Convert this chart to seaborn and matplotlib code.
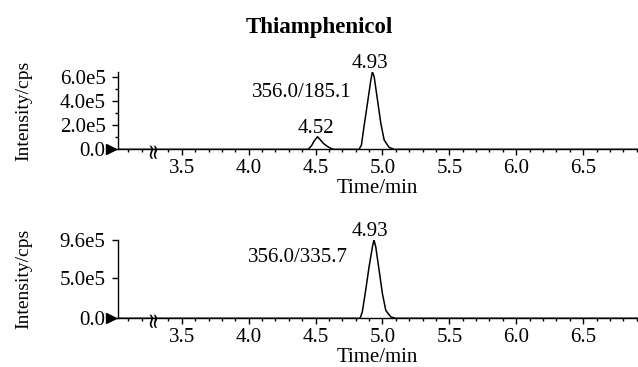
import matplotlib
matplotlib.use("Agg")
import matplotlib.pyplot as plt
import matplotlib.transforms as mtransforms
from matplotlib.ticker import MultipleLocator, FixedLocator
import seaborn as sns
import pandas as pd

# ---- data ----
title = "Thiamphenicol"
time_top = [3.02, 4.445, 4.47, 4.49, 4.515, 4.535, 4.558, 4.575, 4.595, 4.615, 4.635,
            4.825, 4.843, 4.862, 4.888, 4.913, 4.925, 4.938, 4.963, 4.988, 5.013, 5.05, 5.088, 6.91]
int_top = [0, 0, 0.3e5, 0.7e5, 1.04e5, 0.8e5, 0.5e5, 0.35e5, 0.2e5, 0.08e5, 0,
           0, 0.36e5, 1.87e5, 3.8e5, 5.7e5, 6.4e5, 6.0e5, 4.07e5, 2.14e5, 0.77e5, 0.16e5, 0, 0]
time_bot = [3.02, 4.833, 4.85, 4.875, 4.90, 4.925, 4.937, 4.95, 4.975, 5.0, 5.025, 5.063, 5.10, 6.91]
int_bot = [0, 0, 0.82e5, 3.47e5, 6.3e5, 8.75e5, 9.6e5, 8.75e5, 5.9e5, 3.0e5, 0.96e5, 0.16e5, 0, 0]
transition_top = "356.0/185.1"
transition_bot = "356.0/335.7"
peaks_top = [4.52, 4.93]
peaks_top_h = [1.04e5, 6.4e5]
peaks_bot = [4.93]
peaks_bot_h = [9.6e5]
xticks = [3.5, 4.0, 4.5, 5.0, 5.5, 6.0, 6.5]
yticks_top = [0, 2e5, 4e5, 6e5]
ylabels_top = ["0.0", "2.0e5", "4.0e5", "6.0e5"]
yticks_bot = [0, 5e5, 9.6e5]
ylabels_bot = ["0.0", "5.0e5", "9.6e5"]

sns.set_style("ticks")
plt.rcParams['font.family'] = ['Liberation Serif', 'DejaVu Serif']
for k in ["text.color", "axes.labelcolor", "xtick.color", "ytick.color", "axes.edgecolor"]:
    plt.rcParams[k] = "black"

FS = 15

fig = plt.figure(figsize=(6.38, 3.67), dpi=100)
ax1 = fig.add_axes([0.1842, 0.593, 0.8158, 0.2114])
ax2 = fig.add_axes([0.1842, 0.1327, 0.8158, 0.2134])

def style(ax, times, ints, yt, yl, ymax, trans, tpos, peaks, peaks_h, minor_y):
    df = pd.DataFrame({"t": times, "i": ints})
    sns.lineplot(data=df, x="t", y="i", ax=ax, color="black", lw=1.1)
    ax.set_xlim(3.02, 6.91)
    ax.set_ylim(0, ymax)
    for s in ["top", "right"]:
        ax.spines[s].set_visible(False)
    for s in ["left", "bottom"]:
        ax.spines[s].set_linewidth(1.0)
    ax.set_xticks(xticks)
    ax.set_xticklabels([f"{v:.1f}" for v in xticks])
    ax.xaxis.set_minor_locator(MultipleLocator(0.1))
    ax.set_yticks(yt)
    ax.set_yticklabels(yl)
    if minor_y:
        ax.yaxis.set_minor_locator(FixedLocator([1e5, 3e5, 5e5]))
    ax.tick_params(axis="both", which="major", length=4, width=1, labelsize=FS)
    ax.tick_params(axis="both", which="minor", length=2.5, width=1)
    ax.tick_params(axis="y", pad=4.5)
    ax.tick_params(axis="x", pad=3)
    ax.set_xlabel("Time/min", fontsize=FS, labelpad=1)
    ax.set_ylabel("Intensity/cps", fontsize=14)
    ax.yaxis.set_label_coords(-0.164, 0.5)
    ax.text(tpos[0], tpos[1], trans, transform=ax.transAxes, ha="center", va="center", fontsize=FS)
    for p, h in zip(peaks, peaks_h):
        ax.annotate(f"{p:.2f}", xy=(p, h), xytext=(-2, 3), textcoords="offset points",
                    ha="center", va="baseline", fontsize=FS, annotation_clip=False)
    tr = mtransforms.blended_transform_factory(ax.transAxes, ax.transData)
    ax.plot([-0.0116], [0], marker=">", color="black", markersize=7, transform=tr, clip_on=False)
    ax.text(3.285, 0, "\u2248", rotation=90, ha="center", va="center", fontsize=15,
            family=["DejaVu Sans"], clip_on=False)

style(ax1, time_top, int_top, yticks_top, ylabels_top, 6.4e5, transition_top, (0.354, 0.738),
      peaks_top, peaks_top_h, True)
style(ax2, time_bot, int_bot, yticks_bot, ylabels_bot, 9.6e5, transition_bot, (0.347, 0.77),
      peaks_bot, peaks_bot_h, False)

fig.text(0.5, 0.925, title, ha="center", va="center", fontsize=16.5, fontweight="bold")

fig.savefig("out.png", dpi=100)
